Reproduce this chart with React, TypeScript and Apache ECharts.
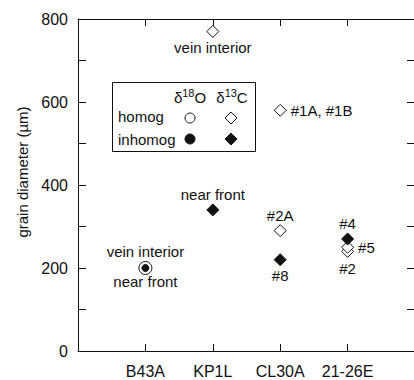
import React, { useEffect, useRef } from "react";
import * as echarts from "echarts";

// Sample names along the x axis (padded with blank slots at both ends)
const samples = ["B43A", "KP1L", "CL30A", "21-26E"];
const padLeft = " ";
const padRight = "  ";

// y-axis ticks
const yMin = 0;
const yMax = 800;
const yStep = 200;

// δ18O, homogeneous (open circles)
const o18HomogSamples = ["B43A"];
const o18HomogValues = [200];
const o18HomogNotes = ["vein interior"];

// δ18O, inhomogeneous (filled circles)
const o18InhomogSamples = ["B43A"];
const o18InhomogValues = [200];
const o18InhomogNotes = ["near front"];

// δ13C, homogeneous (open diamonds)
const c13HomogSamples = ["KP1L", "CL30A", "CL30A", "21-26E", "21-26E"];
const c13HomogValues = [770, 580, 290, 240, 250];
const c13HomogNotes = ["vein interior", "#1A, #1B", "#2A", "#2", "#5"];

// δ13C, inhomogeneous (filled diamonds)
const c13InhomogSamples = ["KP1L", "CL30A", "21-26E"];
const c13InhomogValues = [340, 220, 270];
const c13InhomogNotes = ["near front", "#8", "#4"];

const FONT = "'Liberation Sans', Arial, Helvetica, sans-serif";
const INK = "#111111";

// where each annotation sits relative to its marker
const notePlacement: Record<string, { position: string; distance: number }> = {
  "vein interior@B43A": { position: "top", distance: 2 },
  "near front@B43A": { position: "bottom", distance: 2 },
  "vein interior@KP1L": { position: "bottom", distance: 2 },
  "near front@KP1L": { position: "top", distance: 1 },
  "#1A, #1B@CL30A": { position: "right", distance: 4 },
  "#2A@CL30A": { position: "top", distance: 1 },
  "#8@CL30A": { position: "bottom", distance: 2 },
  "#4@21-26E": { position: "top", distance: 1 },
  "#5@21-26E": { position: "right", distance: 4 },
  "#2@21-26E": { position: "bottom", distance: 3 },
};

function buildPoints(names: string[], values: number[], notes: string[]) {
  return names.map((s, i) => {
    const place = notePlacement[`${notes[i]}@${s}`] || { position: "top", distance: 4 };
    return {
      value: [s, values[i]],
      label: {
        show: true,
        formatter: notes[i],
        position: place.position,
        distance: place.distance,
        color: INK,
        opacity: 1,
        fontSize: 15,
        fontFamily: FONT,
      },
    };
  });
}

export default function App() {
  const ref = useRef<HTMLDivElement>(null);

  useEffect(() => {
    if (!ref.current) return;
    const chart = echarts.init(ref.current, undefined, { renderer: "svg" });

    const cats = [padLeft, ...samples, padRight];
    const inner = (idx: number) => idx > 0 && idx < cats.length - 1;

    const openStyle = { color: "#ffffff", borderColor: INK, borderWidth: 1, opacity: 1 };
    const fillStyle = { color: INK, borderColor: INK, borderWidth: 1, opacity: 1 };

    const sup = (base: string, num: string, tail: string) =>
      `{b|${base}}{s|${num}}{b|${tail}}`;
    const supRich = {
      b: { fontSize: 15, fontFamily: FONT, fill: INK, lineHeight: 18, verticalAlign: "bottom" },
      s: { fontSize: 11, fontFamily: FONT, fill: INK, lineHeight: 18, verticalAlign: "top" },
    };

    chart.setOption({
      animation: false,
      backgroundColor: "#ffffff",
      grid: {
        left: 78,
        top: 19,
        width: 337,
        height: 332,
        containLabel: false,
        outerBoundsMode: "none",
      },
      xAxis: [
        {
          type: "category",
          data: cats,
          boundaryGap: false,
          position: "bottom",
          axisLine: { show: true, lineStyle: { color: INK, width: 1 } },
          axisTick: { show: true, inside: true, length: 7, interval: inner, lineStyle: { color: INK } },
          axisLabel: {
            interval: inner,
            margin: 12,
            color: INK,
            fontSize: 16,
            fontFamily: FONT,
          },
          splitLine: { show: false },
        },
        {
          type: "category",
          data: cats,
          boundaryGap: false,
          position: "top",
          axisLine: { show: true, onZero: false, lineStyle: { color: INK, width: 1 } },
          axisTick: { show: true, inside: true, length: 7, interval: inner, lineStyle: { color: INK } },
          axisLabel: { show: false },
          splitLine: { show: false },
        },
      ],
      yAxis: [
        {
          type: "value",
          min: yMin,
          max: yMax,
          interval: yStep,
          position: "left",
          axisLine: { show: true, lineStyle: { color: INK, width: 1 } },
          axisTick: { show: true, inside: true, length: 8, lineStyle: { color: INK } },
          minorTick: { show: true, splitNumber: 2, length: 8, lineStyle: { color: INK } },
          axisLabel: { margin: 10, color: INK, fontSize: 16, fontFamily: FONT },
          splitLine: { show: false },
        },
        {
          type: "value",
          min: yMin,
          max: yMax,
          interval: yStep,
          position: "right",
          axisLine: { show: true, onZero: false, lineStyle: { color: INK, width: 1 } },
          axisTick: { show: true, inside: true, length: 8, lineStyle: { color: INK } },
          minorTick: { show: true, splitNumber: 2, length: 8, lineStyle: { color: INK } },
          axisLabel: { show: false },
          splitLine: { show: false },
        },
      ],
      series: [
        {
          name: "δ18O homog",
          type: "scatter",
          symbol: "circle",
          symbolSize: 13,
          itemStyle: openStyle,
          data: buildPoints(o18HomogSamples, o18HomogValues, o18HomogNotes),
          z: 2,
        },
        {
          name: "δ18O inhomog",
          type: "scatter",
          symbol: "circle",
          symbolSize: 7,
          itemStyle: fillStyle,
          data: buildPoints(o18InhomogSamples, o18InhomogValues, o18InhomogNotes),
          z: 3,
        },
        {
          name: "δ13C homog",
          type: "scatter",
          symbol: "diamond",
          symbolSize: 12,
          itemStyle: openStyle,
          data: buildPoints(c13HomogSamples, c13HomogValues, c13HomogNotes),
          z: 2,
        },
        {
          name: "δ13C inhomog",
          type: "scatter",
          symbol: "diamond",
          symbolSize: 12,
          itemStyle: fillStyle,
          data: buildPoints(c13InhomogSamples, c13InhomogValues, c13InhomogNotes),
          z: 3,
        },
      ],
      graphic: [
        {
          type: "text",
          x: 22,
          y: 172,
          rotation: Math.PI / 2,
          style: {
            text: "grain diameter (µm)",
            fill: INK,
            font: `15px ${FONT}`,
            align: "center",
            verticalAlign: "middle",
          },
        },
        // legend box
        {
          type: "rect",
          shape: { x: 112.5, y: 82.5, width: 143, height: 69 },
          style: { fill: "#ffffff", stroke: INK, lineWidth: 1 },
          z: 10,
        },
        {
          type: "text",
          x: 190,
          y: 96,
          z: 11,
          style: { text: sup("δ", "18", "O"), align: "center", verticalAlign: "middle", rich: supRich },
        },
        {
          type: "text",
          x: 232,
          y: 96,
          z: 11,
          style: { text: sup("δ", "13", "C"), align: "center", verticalAlign: "middle", rich: supRich },
        },
        {
          type: "text",
          x: 118,
          y: 116,
          z: 11,
          style: { text: "homog", fill: INK, font: `15px ${FONT}`, verticalAlign: "middle" },
        },
        {
          type: "text",
          x: 118,
          y: 139,
          z: 11,
          style: { text: "inhomog", fill: INK, font: `15px ${FONT}`, verticalAlign: "middle" },
        },
        {
          type: "circle",
          z: 11,
          shape: { cx: 190, cy: 118, r: 5 },
          style: { fill: "#ffffff", stroke: INK, lineWidth: 1 },
        },
        {
          type: "circle",
          z: 11,
          shape: { cx: 190, cy: 139, r: 5 },
          style: { fill: INK, stroke: INK, lineWidth: 1 },
        },
        {
          type: "polygon",
          z: 11,
          shape: { points: [[231, 112], [237, 118], [231, 124], [225, 118]] },
          style: { fill: "#ffffff", stroke: INK, lineWidth: 1 },
        },
        {
          type: "polygon",
          z: 11,
          shape: { points: [[231, 133], [237, 139], [231, 145], [225, 139]] },
          style: { fill: INK, stroke: INK, lineWidth: 1 },
        },
      ],
    });

    return () => chart.dispose();
  }, []);

  return (
    <div
      ref={ref}
      style={{ position: "fixed", left: 0, top: 0, width: 414, height: 380, background: "#fff" }}
    />
  );
}
